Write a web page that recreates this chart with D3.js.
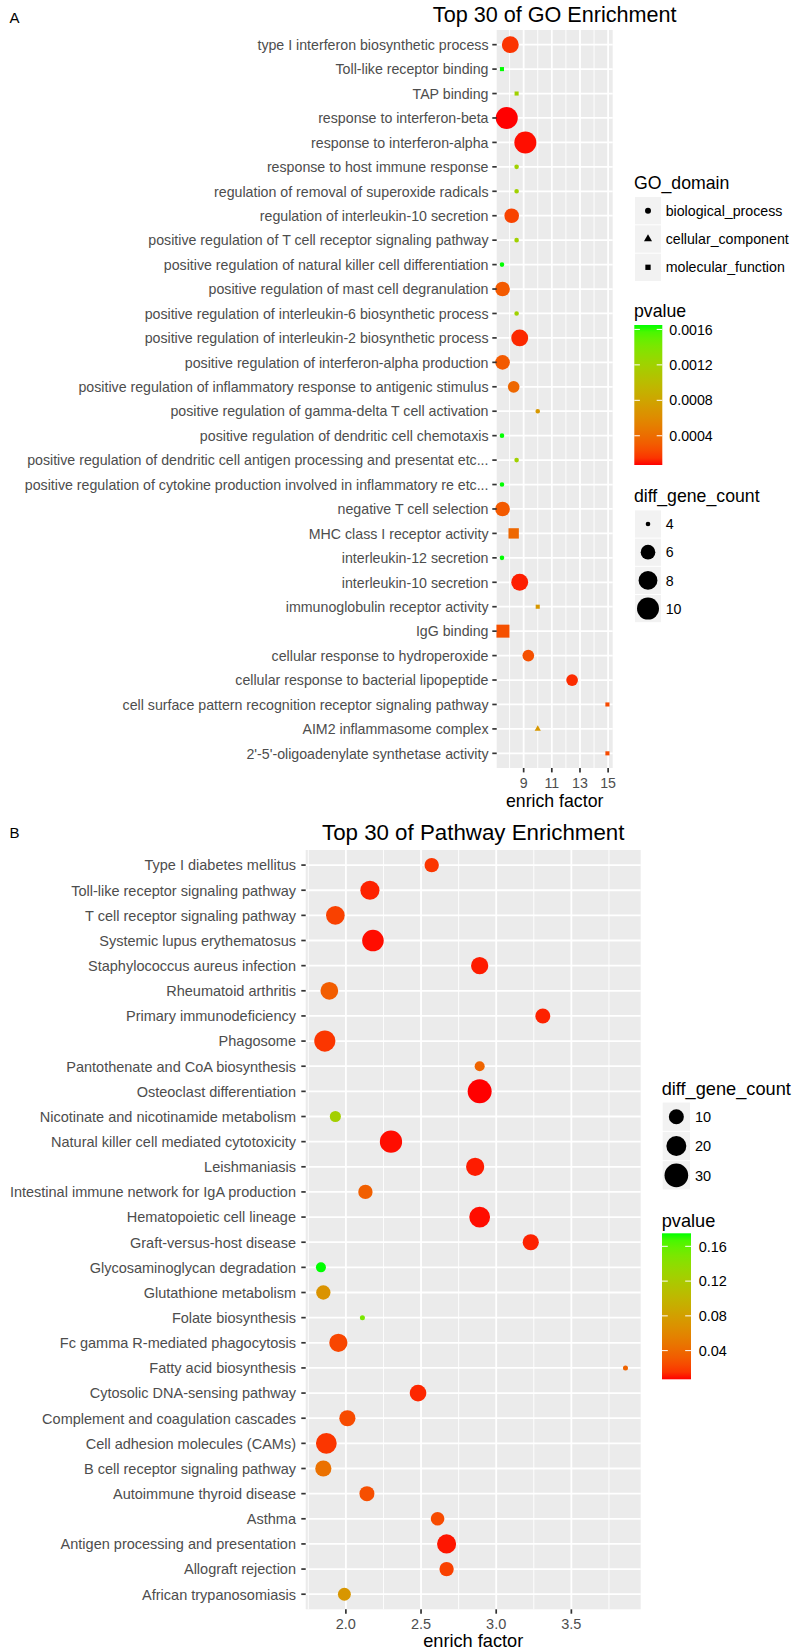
<!DOCTYPE html>
<html><head><meta charset="utf-8">
<script src="https://cdn.jsdelivr.net/npm/d3@7"></script>
<style>body{margin:0;background:#fff} text{font-family:"Liberation Sans",Arial,Helvetica,sans-serif}</style>
</head><body><svg id="c" width="800" height="1652"></svg>
<script>
// ---------------- GO enrichment data (top to bottom) ----------------
const goTerms = [
  "type I interferon biosynthetic process",
  "Toll-like receptor binding",
  "TAP binding",
  "response to interferon-beta",
  "response to interferon-alpha",
  "response to host immune response",
  "regulation of removal of superoxide radicals",
  "regulation of interleukin-10 secretion",
  "positive regulation of T cell receptor signaling pathway",
  "positive regulation of natural killer cell differentiation",
  "positive regulation of mast cell degranulation",
  "positive regulation of interleukin-6 biosynthetic process",
  "positive regulation of interleukin-2 biosynthetic process",
  "positive regulation of interferon-alpha production",
  "positive regulation of inflammatory response to antigenic stimulus",
  "positive regulation of gamma-delta T cell activation",
  "positive regulation of dendritic cell chemotaxis",
  "positive regulation of dendritic cell antigen processing and presentat etc...",
  "positive regulation of cytokine production involved in inflammatory re etc...",
  "negative T cell selection",
  "MHC class I receptor activity",
  "interleukin-12 secretion",
  "interleukin-10 secretion",
  "immunoglobulin receptor activity",
  "IgG binding",
  "cellular response to hydroperoxide",
  "cellular response to bacterial lipopeptide",
  "cell surface pattern recognition receptor signaling pathway",
  "AIM2 inflammasome complex",
  "2'-5'-oligoadenylate synthetase activity"
];
const goEnrich = [8.05, 7.46, 8.5, 7.8, 9.12, 8.5, 8.5, 8.15, 8.5, 7.46,
                  7.5, 8.5, 8.72, 7.5, 8.29, 10, 7.46, 8.5, 7.46, 7.5,
                  8.29, 7.46, 8.72, 10, 7.53, 9.33, 12.44, 14.95, 10, 14.95];
const goCount  = [7, 4, 4, 10, 10, 4, 4, 6, 4, 4,
                  6, 4, 7, 6, 5, 4, 4, 4, 4, 6,
                  5, 4, 7, 4, 6, 5, 5, 4, 4, 4];
const goPvalue = [0.00015, 0.00165, 0.0012, 0.00007, 0.00008, 0.0012, 0.0012, 0.0002, 0.0012, 0.00165,
                  0.0003, 0.0012, 0.00012, 0.0003, 0.00037, 0.0007, 0.00165, 0.0012, 0.00165, 0.0003,
                  0.00037, 0.00165, 0.0001, 0.0007, 0.00025, 0.00025, 0.00013, 0.00023, 0.0007, 0.00023];
const goDomain = ["biological_process","molecular_function","molecular_function","biological_process","biological_process",
                  "biological_process","biological_process","biological_process","biological_process","biological_process",
                  "biological_process","biological_process","biological_process","biological_process","biological_process",
                  "biological_process","biological_process","biological_process","biological_process","biological_process",
                  "molecular_function","biological_process","biological_process","molecular_function","molecular_function",
                  "biological_process","biological_process","molecular_function","cellular_component","molecular_function"];
const goDomainLevels = ["biological_process","cellular_component","molecular_function"];
const goXTicks = [9, 11, 13, 15];
const goPTicks = [0.0004, 0.0008, 0.0012, 0.0016];
const goPTickLabels = ["0.0004", "0.0008", "0.0012", "0.0016"];
const goSizeBreaks = [4, 6, 8, 10];

// ---------------- Pathway enrichment data (top to bottom) ----------------
const pwTerms = [
  "Type I diabetes mellitus",
  "Toll-like receptor signaling pathway",
  "T cell receptor signaling pathway",
  "Systemic lupus erythematosus",
  "Staphylococcus aureus infection",
  "Rheumatoid arthritis",
  "Primary immunodeficiency",
  "Phagosome",
  "Pantothenate and CoA biosynthesis",
  "Osteoclast differentiation",
  "Nicotinate and nicotinamide metabolism",
  "Natural killer cell mediated cytotoxicity",
  "Leishmaniasis",
  "Intestinal immune network for IgA production",
  "Hematopoietic cell lineage",
  "Graft-versus-host disease",
  "Glycosaminoglycan degradation",
  "Glutathione metabolism",
  "Folate biosynthesis",
  "Fc gamma R-mediated phagocytosis",
  "Fatty acid biosynthesis",
  "Cytosolic DNA-sensing pathway",
  "Complement and coagulation cascades",
  "Cell adhesion molecules (CAMs)",
  "B cell receptor signaling pathway",
  "Autoimmune thyroid disease",
  "Asthma",
  "Antigen processing and presentation",
  "Allograft rejection",
  "African trypanosomiasis"
];
const pwEnrich = [2.571, 2.16, 1.93, 2.18, 2.89, 1.89, 3.31, 1.86, 2.89, 2.89,
                  1.93, 2.30, 2.86, 2.13, 2.89, 3.23, 1.834, 1.85, 2.11, 1.95,
                  3.86, 2.48, 2.01, 1.87, 1.85, 2.14, 2.61, 2.67, 2.67, 1.99];
const pwCount  = [9, 18, 17, 24, 14, 15, 10, 23, 4, 31,
                  5, 26, 16, 9, 22, 12, 4, 9, 2, 16,
                  2, 13, 12, 22, 12, 10, 8, 18, 9, 7];
const pwPvalue = [0.016, 0.011, 0.02, 0.008, 0.01, 0.033, 0.011, 0.016, 0.037, 0.007,
                  0.125, 0.008, 0.01, 0.034, 0.008, 0.011, 0.175, 0.07, 0.15, 0.022,
                  0.037, 0.012, 0.024, 0.016, 0.045, 0.026, 0.024, 0.009, 0.02, 0.072];
const pwXTicks = [2.0, 2.5, 3.0, 3.5];
const pwXTickLabels = ["2.0", "2.5", "3.0", "3.5"];
const pwPTicks = [0.04, 0.08, 0.12, 0.16];
const pwPTickLabels = ["0.04", "0.08", "0.12", "0.16"];
const pwSizeBreaks = [10, 20, 30];

// ---------------- drawing ----------------
const svg = d3.select("#c");
svg.append("rect").attr("width", 800).attr("height", 1652).attr("fill", "#fff");

const shapeOf = {
  biological_process: d3.symbolCircle,
  cellular_component: d3.symbolTriangle,
  molecular_function: d3.symbolSquare
};

function drawPanel(cfg) {
  const g = svg.append("g");
  const rows = cfg.terms.map((t, i) => ({
    term: t, x: cfg.enrich[i], count: cfg.count[i], p: cfg.pvalue[i],
    domain: cfg.domain ? cfg.domain[i] : "biological_process"
  }));

  // x scale with ggplot-like 5% expansion
  const ext = d3.extent(cfg.enrich);
  const pad = (ext[1] - ext[0]) * 0.05;
  const x = d3.scaleLinear().domain([ext[0] - pad, ext[1] + pad]).range([cfg.left, cfg.right]);
  const y = d3.scalePoint().domain(cfg.terms).range([cfg.top, cfg.bottom]).padding(0.6);

  const pext = d3.extent(cfg.pvalue);
  const color = d3.scaleLinear().domain(pext).range(["#ff0000", "#00ff00"]).interpolate(d3.interpolateLab);

  const cext = d3.extent(cfg.count);
  const sizeT = d3.scaleLinear().domain(cext).range([0, 1]);
  const diam = v => cfg.dmin + (cfg.dmax - cfg.dmin) * Math.sqrt(Math.max(0, sizeT(v)));

  g.append("rect").attr("x", cfg.left).attr("y", cfg.top)
    .attr("width", cfg.right - cfg.left).attr("height", cfg.bottom - cfg.top).attr("fill", "#EBEBEB");

  const step = cfg.xTicks[1] - cfg.xTicks[0];
  const minors = [];
  for (let i = -1; i < cfg.xTicks.length; i++) {
    const m = cfg.xTicks[0] + step * (i + 0.5);
    if (m > x.domain()[0] && m < x.domain()[1]) minors.push(m);
  }
  g.selectAll(".minor").data(minors).enter().append("line")
    .attr("x1", d => x(d)).attr("x2", d => x(d)).attr("y1", cfg.top).attr("y2", cfg.bottom)
    .attr("stroke", "#fff").attr("stroke-width", 0.9);
  g.selectAll(".vmaj").data(cfg.xTicks).enter().append("line")
    .attr("x1", d => x(d)).attr("x2", d => x(d)).attr("y1", cfg.top).attr("y2", cfg.bottom)
    .attr("stroke", "#fff").attr("stroke-width", 1.8);
  g.selectAll(".hmaj").data(cfg.terms).enter().append("line")
    .attr("x1", cfg.left).attr("x2", cfg.right).attr("y1", d => y(d)).attr("y2", d => y(d))
    .attr("stroke", "#fff").attr("stroke-width", 1.8);

  g.selectAll(".pt").data(rows).enter().append("path")
    .attr("transform", d => `translate(${x(d.x)},${y(d.term)})`)
    .attr("d", d => d3.symbol().type(shapeOf[d.domain]).size(Math.PI * Math.pow(diam(d.count) / 2, 2))())
    .attr("fill", d => color(d.p));

  g.selectAll(".yt").data(cfg.terms).enter().append("line")
    .attr("x1", cfg.left - 4.4).attr("x2", cfg.left).attr("y1", d => y(d)).attr("y2", d => y(d))
    .attr("stroke", "#333").attr("stroke-width", 1.7);
  g.selectAll(".yl").data(cfg.terms).enter().append("text")
    .attr("x", cfg.labelRight).attr("y", d => y(d)).attr("dy", "0.37em")
    .attr("text-anchor", "end").attr("font-size", cfg.axisFont).attr("fill", "#4D4D4D")
    .text(d => d);

  g.selectAll(".xt").data(cfg.xTicks).enter().append("line")
    .attr("x1", d => x(d)).attr("x2", d => x(d)).attr("y1", cfg.bottom).attr("y2", cfg.bottom + 4.4)
    .attr("stroke", "#333").attr("stroke-width", 1.7);
  g.selectAll(".xl").data(cfg.xTicks).enter().append("text")
    .attr("x", d => x(d)).attr("y", cfg.tickBaseline).attr("text-anchor", "middle")
    .attr("font-size", cfg.axisFont).attr("fill", "#4D4D4D")
    .text((d, i) => cfg.xTickLabels[i]);

  const cx = (cfg.left + cfg.right) / 2;
  g.append("text").attr("x", cx).attr("y", cfg.xTitleBaseline).attr("text-anchor", "middle")
    .attr("font-size", cfg.legTitleFont).attr("fill", "#000").text("enrich factor");
  g.append("text").attr("x", cx).attr("y", cfg.titleBaseline).attr("text-anchor", "middle")
    .attr("font-size", cfg.titleFont).attr("fill", "#000").text(cfg.title);

  return { color, diam, pext };
}

function drawShapeLegend(cfg) {
  const g = svg.append("g");
  g.append("text").attr("x", cfg.x).attr("y", cfg.titleBaseline).attr("font-size", cfg.titleFont).text(cfg.title);
  cfg.levels.forEach((lv, i) => {
    const cy = cfg.firstCenter + i * cfg.keyH;
    g.append("rect").attr("x", cfg.x + 1).attr("y", cy - cfg.keyH / 2 + 0.5).attr("width", cfg.keyW)
      .attr("height", cfg.keyH - 1).attr("fill", "#F2F2F2");
    g.append("path").attr("transform", `translate(${cfg.x + 1 + cfg.keyW / 2},${cy})`)
      .attr("d", d3.symbol().type(shapeOf[lv]).size(Math.PI * 9)()).attr("fill", "#000");
    g.append("text").attr("x", cfg.labelX).attr("y", cy).attr("dy", "0.36em")
      .attr("font-size", cfg.textFont).text(lv);
  });
}

function drawSizeLegend(cfg, diam) {
  const g = svg.append("g");
  g.append("text").attr("x", cfg.x).attr("y", cfg.titleBaseline).attr("font-size", cfg.titleFont).text("diff_gene_count");
  cfg.breaks.forEach((b, i) => {
    const cy = cfg.firstCenter + i * cfg.keyH;
    g.append("rect").attr("x", cfg.x + 1).attr("y", cy - cfg.keyH / 2 + 0.5).attr("width", cfg.keyW)
      .attr("height", cfg.keyH - 1).attr("fill", "#F2F2F2");
    g.append("circle").attr("cx", cfg.x + 1 + cfg.keyW / 2).attr("cy", cy).attr("r", diam(b) / 2).attr("fill", "#000");
    g.append("text").attr("x", cfg.labelX).attr("y", cy).attr("dy", "0.36em")
      .attr("font-size", cfg.textFont).text(b);
  });
}

function drawColorbar(cfg, color, pext) {
  const g = svg.append("g");
  g.append("text").attr("x", cfg.x).attr("y", cfg.titleBaseline).attr("font-size", cfg.titleFont).text("pvalue");
  const id = "grad" + cfg.id;
  const grad = svg.append("defs").append("linearGradient").attr("id", id)
    .attr("x1", 0).attr("x2", 0).attr("y1", 1).attr("y2", 0);
  d3.range(0, 21).forEach(i => {
    const t = i / 20;
    grad.append("stop").attr("offset", t).attr("stop-color", color(pext[0] + t * (pext[1] - pext[0])));
  });
  g.append("rect").attr("x", cfg.barX).attr("y", cfg.barTop).attr("width", cfg.barW)
    .attr("height", cfg.barBottom - cfg.barTop).attr("fill", `url(#${id})`);
  const yb = d3.scaleLinear().domain(pext).range([cfg.barBottom, cfg.barTop]);
  cfg.ticks.forEach((t, i) => {
    const yy = yb(t);
    g.append("line").attr("x1", cfg.barX).attr("x2", cfg.barX + cfg.barW / 5).attr("y1", yy).attr("y2", yy)
      .attr("stroke", "#fff").attr("stroke-width", 1);
    g.append("line").attr("x1", cfg.barX + cfg.barW * 4 / 5).attr("x2", cfg.barX + cfg.barW).attr("y1", yy).attr("y2", yy)
      .attr("stroke", "#fff").attr("stroke-width", 1);
    g.append("text").attr("x", cfg.labelX).attr("y", yy).attr("dy", "0.36em")
      .attr("font-size", cfg.textFont).text(cfg.labels[i]);
  });
}

svg.append("text").attr("x", 9.5).attr("y", 23.3).attr("font-size", 15).text("A");
svg.append("text").attr("x", 9.5).attr("y", 837.5).attr("font-size", 15).text("B");

const A = drawPanel({
  terms: goTerms, enrich: goEnrich, count: goCount, pvalue: goPvalue, domain: goDomain,
  left: 496.7, right: 612.7, top: 30, bottom: 768,
  xTicks: goXTicks, xTickLabels: goXTicks.map(String),
  axisFont: 14.2, titleFont: 21.6, legTitleFont: 17.7,
  labelRight: 488.5, tickBaseline: 787.7, xTitleBaseline: 807.3, titleBaseline: 22,
  dmin: 4.62, dmax: 22, title: "Top 30 of GO Enrichment"
});
drawShapeLegend({ x: 634, title: "GO_domain", titleBaseline: 189.3, titleFont: 17.7, textFont: 14.2,
  levels: goDomainLevels, firstCenter: 210.7, keyH: 28.3, keyW: 26, labelX: 665.7 });
drawColorbar({ id: "A", x: 634, titleBaseline: 317.3, titleFont: 17.7, textFont: 14.2,
  barX: 634.3, barW: 28, barTop: 325, barBottom: 465, labelX: 669.3,
  ticks: goPTicks, labels: goPTickLabels }, A.color, A.pext);
drawSizeLegend({ x: 634, titleBaseline: 502.3, titleFont: 17.7, textFont: 14.2,
  breaks: goSizeBreaks, firstCenter: 524, keyH: 28.2, keyW: 26, labelX: 665.7 }, A.diam);

const B = drawPanel({
  terms: pwTerms, enrich: pwEnrich, count: pwCount, pvalue: pwPvalue, domain: null,
  left: 305.7, right: 640.7, top: 850, bottom: 1609.3,
  xTicks: pwXTicks, xTickLabels: pwXTickLabels,
  axisFont: 14.5, titleFont: 22.3, legTitleFont: 18.2,
  labelRight: 296, tickBaseline: 1629.3, xTitleBaseline: 1646.7, titleBaseline: 839.5,
  dmin: 5.04, dmax: 24, title: "Top 30 of Pathway Enrichment"
});
drawSizeLegend({ x: 661.7, titleBaseline: 1095, titleFont: 18.2, textFont: 14.5,
  breaks: pwSizeBreaks, firstCenter: 1116.7, keyH: 29.3, keyW: 27.3, labelX: 695 }, B.diam);
drawColorbar({ id: "B", x: 661.7, titleBaseline: 1226.7, titleFont: 18.2, textFont: 14.5,
  barX: 662, barW: 29, barTop: 1233.3, barBottom: 1379.3, labelX: 698.7,
  ticks: pwPTicks, labels: pwPTickLabels }, B.color, B.pext);
</script></body></html>
